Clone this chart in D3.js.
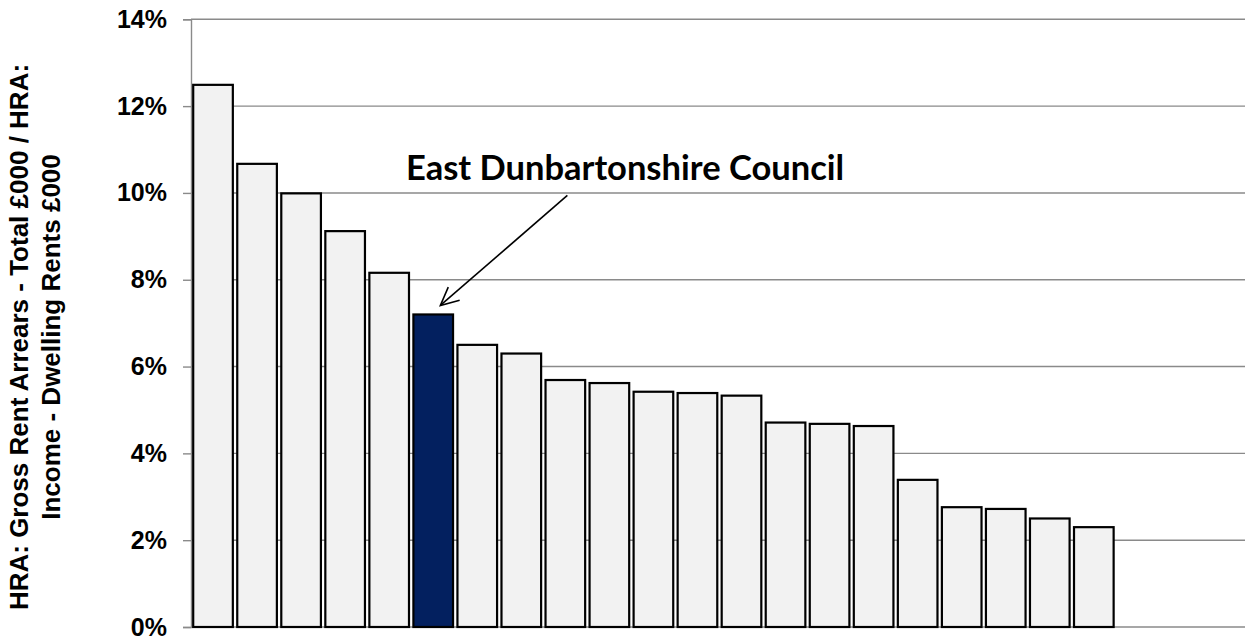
<!DOCTYPE html>
<html>
<head>
<meta charset="utf-8">
<script src="https://cdn.jsdelivr.net/npm/d3@7"></script>
<style>
    body { margin: 0; background: #fff; }
    #main { width: 1245px; height: 641px; overflow: hidden; }
</style>
</head>
<body>
<div id="main"></div>
<script>
// councils, sorted by arrears ratio (only the highlighted one is named on the chart)
const councils = ["c1", "c2", "c3", "c4", "c5", "East Dunbartonshire Council", "c7", "c8", "c9", "c10",
    "c11", "c12", "c13", "c14", "c15", "c16", "c17", "c18", "c19", "c20", "c21"];
const arrearsPct = [12.49, 10.67, 9.99, 9.12, 8.16, 7.20, 6.50, 6.30, 5.69, 5.62,
    5.42, 5.39, 5.33, 4.71, 4.68, 4.63, 3.39, 2.76, 2.72, 2.50, 2.30];
// the category axis has room for 24 slots, the last 3 are empty
const emptySlots = ["e1", "e2", "e3"];
const yTicks = [0, 2, 4, 6, 8, 10, 12, 14];
const highlight = "East Dunbartonshire Council";
const yTitle = ["HRA:  Gross Rent Arrears - Total £000 / HRA:", "Income - Dwelling Rents  £000"];

const chartCtx = {
    W: 1245,
    H: 641,
    LEFT: 191,
    TOP: 19.3,
    BOTTOM: 627,
    STEP: 44.04,
    BAR_FILL: "#f2f2f2",
    HIGHLIGHT_FILL: "#03205f",
    GRID_COLOR: "#8a8a8a",
    AXIS_FONT: "'Liberation Sans', Arial, sans-serif"
};

function drawChart() {
    const svg = d3.select("#main").append("svg")
        .attr("width", chartCtx.W)
        .attr("height", chartCtx.H);

    const slots = councils.concat(emptySlots);

    const x = d3.scaleBand()
        .domain(slots)
        .range([chartCtx.LEFT, chartCtx.LEFT + chartCtx.STEP * slots.length])
        .paddingInner(0.1)
        .paddingOuter(0.05);

    const y = d3.scaleLinear()
        .domain([0, 14])
        .range([chartCtx.BOTTOM, chartCtx.TOP]);

    // gridlines
    svg.append("g")
        .selectAll("line")
        .data(yTicks)
        .join("line")
        .attr("x1", chartCtx.LEFT)
        .attr("x2", chartCtx.W)
        .attr("y1", d => y(d))
        .attr("y2", d => y(d))
        .attr("stroke", chartCtx.GRID_COLOR)
        .attr("stroke-width", 1.4);

    // y axis
    const yAxis = d3.axisLeft(y)
        .tickValues(yTicks)
        .tickSize(8)
        .tickPadding(16)
        .tickFormat(d => d + "%");

    const yG = svg.append("g")
        .attr("transform", `translate(${chartCtx.LEFT},0)`)
        .call(yAxis);
    yG.select(".domain").attr("stroke", chartCtx.GRID_COLOR).attr("stroke-width", 1.4);
    yG.selectAll(".tick line").attr("stroke", chartCtx.GRID_COLOR).attr("stroke-width", 1.4);
    yG.selectAll(".tick text")
        .attr("fill", "#000")
        .style("font-family", chartCtx.AXIS_FONT)
        .style("font-weight", "bold")
        .style("font-size", "25px");

    // bars
    svg.append("g")
        .selectAll("rect")
        .data(councils.map((c, i) => ({ name: c, value: arrearsPct[i] })))
        .join("rect")
        .attr("x", d => x(d.name))
        .attr("width", x.bandwidth())
        .attr("y", d => y(d.value))
        .attr("height", d => y(0) - y(d.value))
        .attr("fill", d => d.name === highlight ? chartCtx.HIGHLIGHT_FILL : chartCtx.BAR_FILL)
        .attr("stroke", "#000")
        .attr("stroke-width", 2.2);

    // y axis title
    const title = svg.append("text")
        .attr("transform", "translate(28,337) rotate(-90)")
        .attr("text-anchor", "middle")
        .style("font-family", chartCtx.AXIS_FONT)
        .style("font-weight", "bold")
        .style("font-size", "26px");
    title.selectAll("tspan")
        .data(yTitle)
        .join("tspan")
        .attr("x", 0)
        .attr("dy", (d, i) => i === 0 ? 0 : 32)
        .text(d => d);

    // annotation for the highlighted council
    const hi = councils.indexOf(highlight);
    const tipX = x(highlight) + x.bandwidth() * 0.68;
    const tipY = y(arrearsPct[hi]) - 9;
    const startX = tipX + 127;
    const startY = tipY - 110;

    svg.append("text")
        .attr("x", 625)
        .attr("y", 180)
        .attr("text-anchor", "middle")
        .style("font-family", "Lato, 'Open Sans', sans-serif")
        .style("font-weight", "bold")
        .style("font-size", "34.5px")
        .text(highlight);

    svg.append("line")
        .attr("x1", startX).attr("y1", startY)
        .attr("x2", tipX).attr("y2", tipY)
        .attr("stroke", "#000")
        .attr("stroke-width", 1.6);

    const ang = Math.atan2(startY - tipY, startX - tipX);
    const wing = 20, spread = 0.45;
    svg.append("path")
        .attr("d", d3.line()([
            [tipX + wing * Math.cos(ang - spread), tipY + wing * Math.sin(ang - spread)],
            [tipX, tipY],
            [tipX + wing * Math.cos(ang + spread), tipY + wing * Math.sin(ang + spread)]
        ]))
        .attr("fill", "none")
        .attr("stroke", "#000")
        .attr("stroke-width", 1.6);
}

drawChart();
</script>
</body>
</html>
